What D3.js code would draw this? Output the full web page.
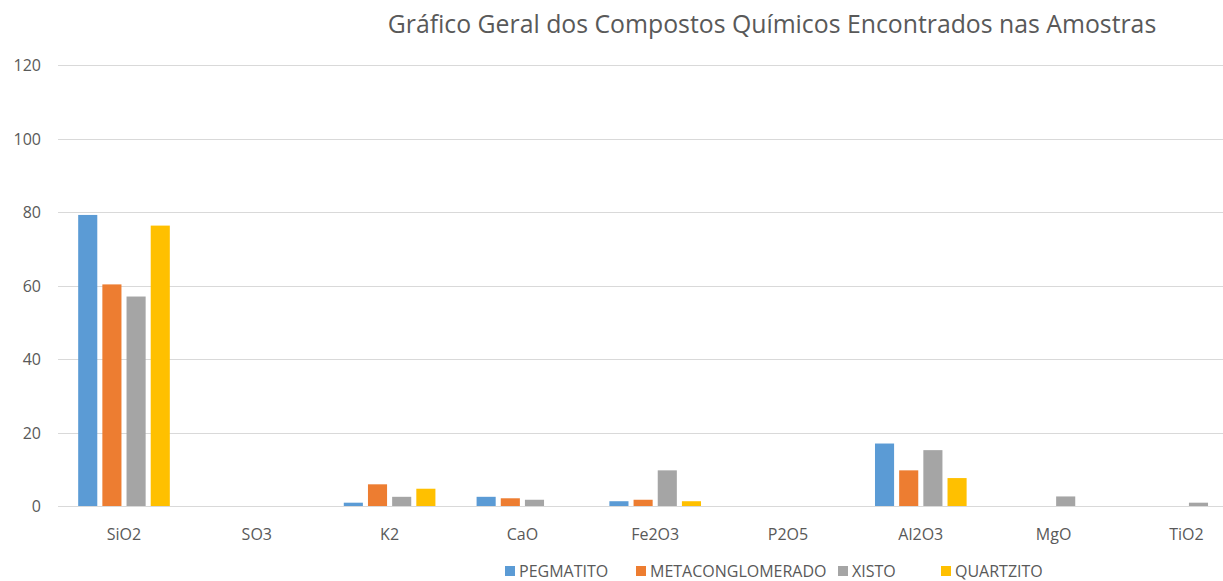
<!DOCTYPE html>
<html>
<head>
<meta charset="utf-8">
<script src="https://cdn.jsdelivr.net/npm/d3@7"></script>
<style>
  body { margin: 0; background: #fff; overflow: hidden; }
  text { font-family: "Open Sans", "Liberation Sans", sans-serif; fill: #595959; }
</style>
</head>
<body>
<svg id="chart" width="1223" height="581"></svg>
<script>
// compounds on the x axis
const categories = ["SiO2", "SO3", "K2", "CaO", "Fe2O3", "P2O5", "Al2O3", "MgO", "TiO2"];
const seriesNames = ["PEGMATITO", "METACONGLOMERADO", "XISTO", "QUARTZITO"];
const colors = ["#5b9bd5", "#ed7d31", "#a5a5a5", "#ffc000"];

// values
const pegmatito        = [79.2, 0, 0.9, 2.5, 1.3, 0, 17.0, 0, 0];
const metaconglomerado = [60.3, 0, 5.9, 2.1, 1.7, 0, 9.7, 0, 0];
const xisto            = [57.0, 0, 2.5, 1.7, 9.7, 0, 15.2, 2.6, 0.9];
const quartzito        = [76.3, 0, 4.7, 0, 1.3, 0, 7.6, 0, 0];
const yTicks = [0, 20, 40, 60, 80, 100, 120];

const series = [pegmatito, metaconglomerado, xisto, quartzito];

let svg = d3.select("#chart");

// the plot runs past the right edge of the picture (it is cropped)
let x = d3.scaleBand()
    .domain(categories)
    .range([57.6, 1252.8])
    .paddingInner(0.31)
    .paddingOuter(0.155);

let xs = d3.scaleBand()
    .domain(d3.range(seriesNames.length))
    .range([0, x.bandwidth()])
    .paddingInner(0.21);

let y = d3.scaleLinear()
    .domain([0, 120])
    .range([506, 65]);

// gridlines
svg.append("g")
    .selectAll("line")
    .data(yTicks)
    .enter()
    .append("line")
    .attr("x1", 58)
    .attr("x2", 1223)
    .attr("y1", d => Math.round(y(d)) + 0.5)
    .attr("y2", d => Math.round(y(d)) + 0.5)
    .attr("stroke", "#d9d9d9")
    .attr("stroke-width", 1);

// y labels
svg.append("g")
    .selectAll("text")
    .data(yTicks)
    .enter()
    .append("text")
    .attr("x", 41)
    .attr("y", d => y(d) + 6)
    .attr("text-anchor", "end")
    .style("font-size", "16px")
    .text(d => d);

// bars
let groups = svg.append("g")
    .selectAll("g")
    .data(categories)
    .enter()
    .append("g")
    .attr("transform", d => "translate(" + x(d) + ",0)");

groups.selectAll("rect")
    .data((d, i) => series.map((s, j) => ({ j: j, v: s[i] })))
    .enter()
    .append("rect")
    .attr("x", d => xs(d.j))
    .attr("width", xs.bandwidth())
    .attr("y", d => y(d.v))
    .attr("height", d => y(0) - y(d.v))
    .attr("fill", d => colors[d.j]);

// x labels
svg.append("g")
    .selectAll("text")
    .data(categories)
    .enter()
    .append("text")
    .attr("x", d => x(d) + x.bandwidth() / 2)
    .attr("y", 540)
    .attr("text-anchor", "middle")
    .style("font-size", "16px")
    .text(d => d);

// title
svg.append("text")
    .attr("x", 772)
    .attr("y", 33)
    .attr("text-anchor", "middle")
    .style("font-size", "24.8px")
    .text("Gráfico Geral dos Compostos Químicos Encontrados nas Amostras");

// legend
const legendX = [505, 636, 838, 941];
let legend = svg.append("g")
    .selectAll("g")
    .data(seriesNames)
    .enter()
    .append("g")
    .attr("transform", (d, i) => "translate(" + legendX[i] + ",566)");

legend.append("rect")
    .attr("width", 10)
    .attr("height", 10)
    .attr("fill", (d, i) => colors[i]);

legend.append("text")
    .attr("x", 14)
    .attr("y", 11)
    .style("font-size", "16px")
    .text(d => d);
</script>
</body>
</html>
